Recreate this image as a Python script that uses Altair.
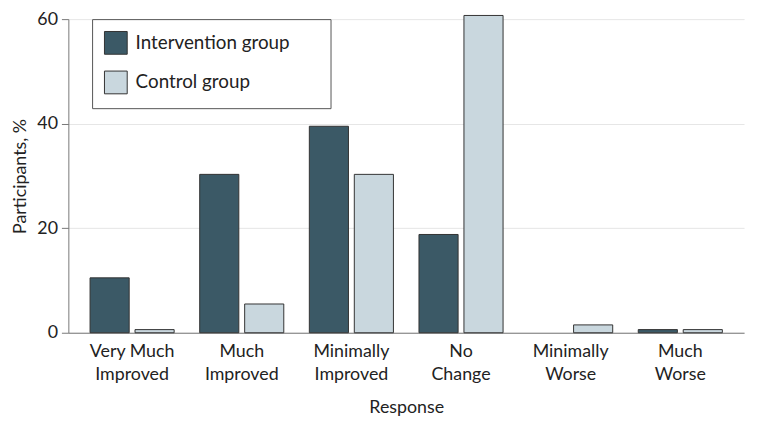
import altair as alt
import pandas as pd

categories = ["Very Much Improved", "Much Improved", "Minimally Improved",
              "No Change", "Minimally Worse", "Much Worse"]
groups = ["Intervention group", "Control group"]
intervention = [10.5, 30.3, 39.5, 18.8, 0.0, 0.6]
control = [0.6, 5.5, 30.3, 60.7, 1.5, 0.6]
colors = ["#3b5966", "#c9d7de"]

rows = []
for c, v in zip(categories, intervention):
    rows.append({"Response": c, "Group": groups[0], "Value": v})
for c, v in zip(categories, control):
    rows.append({"Response": c, "Group": groups[1], "Value": v})
df = pd.DataFrame(rows)

FONT = "Lato"
PAD = "\u00a0" * 6 + "\u200b"

label_expr = ("datum.label == 'Very Much Improved' ? ['Very Much', 'Improved'] : "
              "split(datum.label, ' ')")

chart = alt.Chart(df).transform_filter(
    "datum.Value > 0"
).mark_bar(stroke="#333333", strokeWidth=1).encode(
    x=alt.X("Response:N", sort=categories,
            scale=alt.Scale(domain=categories, paddingInner=0.233, paddingOuter=0.198),
            axis=alt.Axis(title="Response", labelAngle=0, labelExpr=label_expr,
                          labelFontSize=18, labelLineHeight=23, labelPadding=10,
                          titleFontSize=18, titlePadding=16, ticks=False,
                          domainColor="#777777", labelColor="#222222",
                          titleColor="#222222", titleFontWeight="normal")),
    xOffset=alt.XOffset("Group:N", sort=groups,
                        scale=alt.Scale(domain=groups, paddingInner=0.13)),
    y=alt.Y("Value:Q", scale=alt.Scale(domain=[0, 60], nice=False),
            axis=alt.Axis(title="Participants, %", values=[0, 20, 40, 60],
                          labelFontSize=18, titleFontSize=18, tickSize=7,
                          tickColor="#777777", domainColor="#777777",
                          gridColor="#e6e6e6", labelColor="#222222",
                          titleColor="#222222", titlePadding=7,
                          titleFontWeight="normal", labelPadding=4)),
    color=alt.Color("Group:N", sort=groups,
                    scale=alt.Scale(domain=groups, range=colors),
                    legend=alt.Legend(title=None, orient="none",
                                      legendX=24, legendY=0,
                                      symbolType="square", symbolSize=529,
                                      symbolStrokeColor="#333333",
                                      symbolStrokeWidth=1,
                                      labelFontSize=19, labelColor="#222222",
                                      labelExpr="datum.label + '" + PAD + "'",
                                      labelLimit=400,
                                      rowPadding=12, padding=12,
                                      strokeColor="#555555",
                                      fillColor="white",
                                      labelOffset=8)),
).properties(
    width=683, height=317,
    autosize=alt.AutoSizeParams(type="none"),
    padding={"left": 61, "top": 9, "right": 6, "bottom": 90},
).configure(font=FONT).configure_view(stroke=None).configure_axisY(
    domain=True).configure_axisX(grid=False)

chart.save("out.html", embed_options={"renderer": "svg", "actions": False})
